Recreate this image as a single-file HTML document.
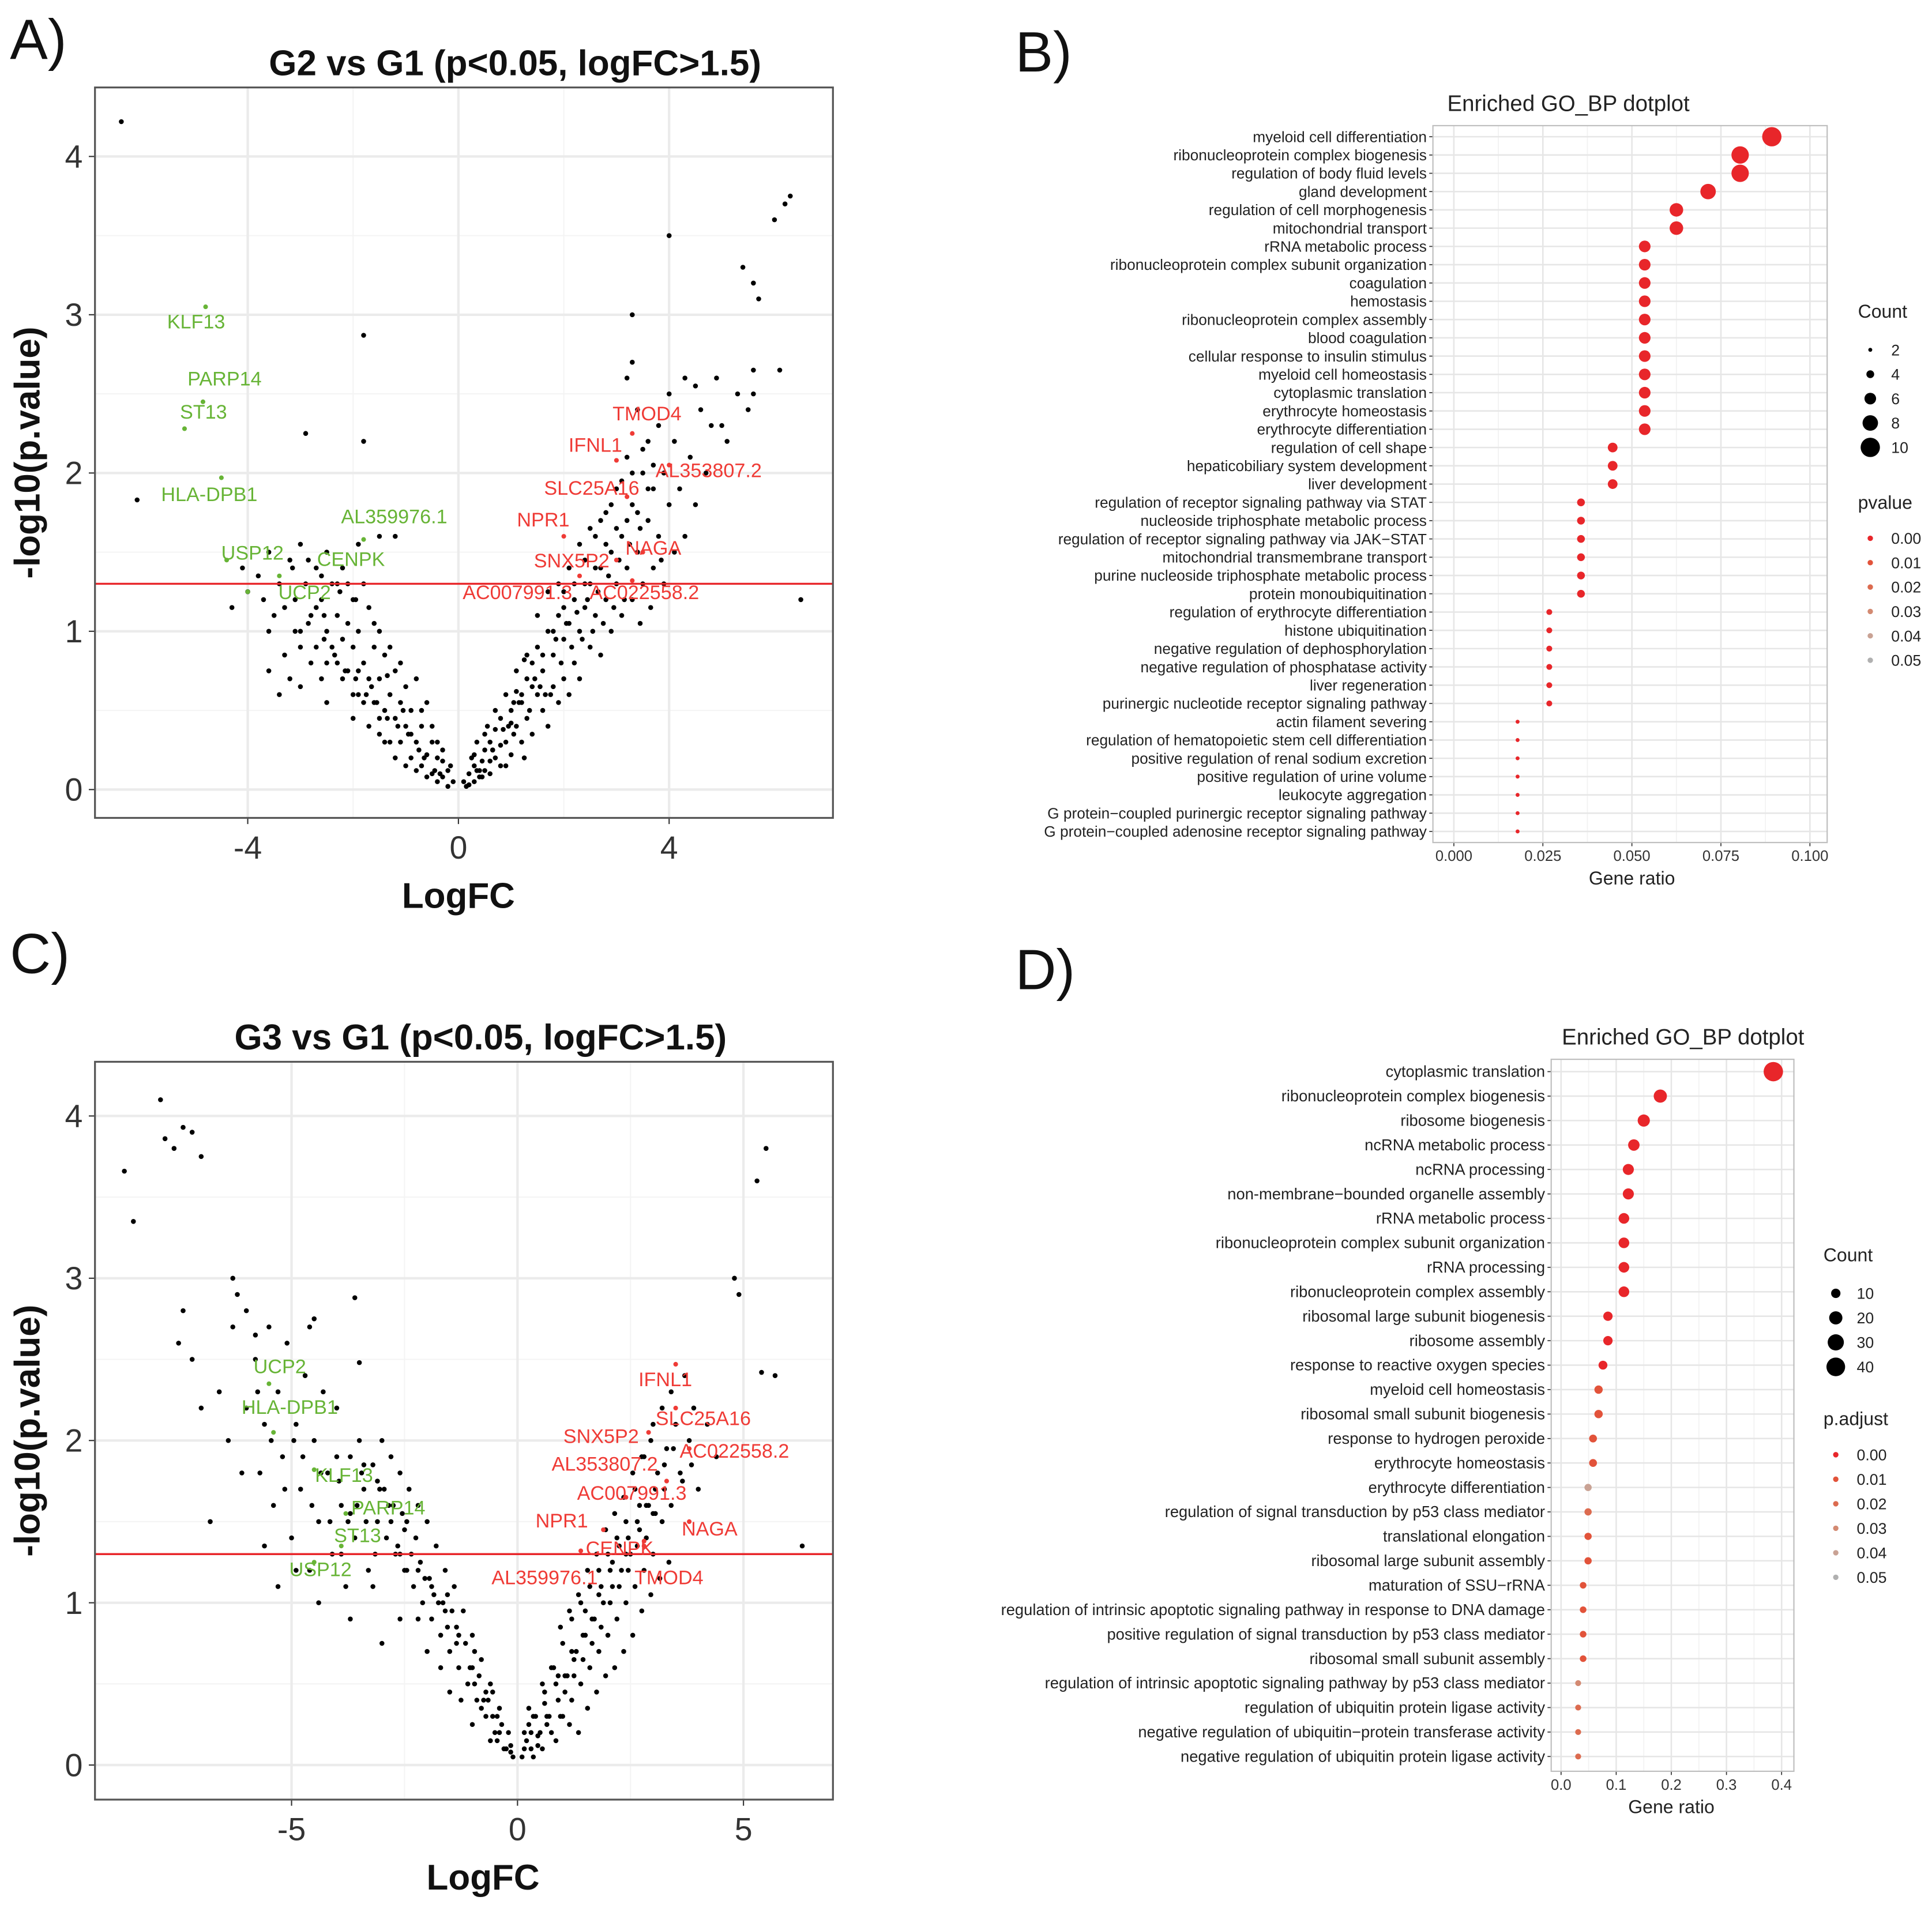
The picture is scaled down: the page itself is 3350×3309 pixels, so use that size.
<!DOCTYPE html>
<html><head><meta charset="utf-8">
<style>
html,body{margin:0;padding:0;background:#fff;}
svg{display:block;font-family:"Liberation Sans",Arial,sans-serif;}
</style></head>
<body>
<svg id="root" width="3350" height="3309" viewBox="0 0 1568 1549" xmlns="http://www.w3.org/2000/svg">
<rect width="1568" height="1549" fill="#fff"/>
<text x="8" y="48" font-size="46" fill="#111">A)</text>
<text x="824" y="58" font-size="46" fill="#111">B)</text>
<text x="8" y="790" font-size="46" fill="#111">C)</text>
<text x="824" y="803" font-size="46" fill="#111">D)</text>
</svg>
<script>
// ---------- Volcano A data ----------
const volcA_x = [0.1,0.2,0.3,0.4,0.5,0.5,0.6,0.7,0.7,0.8,0.8,0.9,1.0,1.0,1.1,1.1,1.2,1.2,1.3,1.3,1.4,1.4,1.5,1.5,1.6,1.6,1.7,1.7,1.8,1.8,1.9,1.9,2.0,2.0,2.0,2.1,2.1,2.2,2.2,2.3,2.3,2.4,2.4,2.5,2.5,2.6,2.6,2.7,2.7,2.8,2.8,2.9,2.9,3.0,3.0,3.1,3.1,3.2,3.2,3.3,3.3,3.4,3.4,3.5,3.5,3.6,3.6,3.7,3.7,3.8,3.8,3.9,3.9,4.0,4.0,4.1,4.1,4.2,4.3,4.3,4.4,4.5,4.6,4.7,4.9,5.0,5.1,5.3,5.6,5.6,6.1,6.5,6.2,6.0,6.3,5.4,5.6,5.7,3.3,4.0,3.3,3.2,4.5,5.5,4.8,0.3,0.15,0.25,0.45,0.6,0.35,0.55,0.9,1.05,1.25,
-0.1,-0.2,-0.3,-0.4,-0.5,-0.5,-0.6,-0.7,-0.7,-0.8,-0.9,-0.9,-1.0,-1.0,-1.1,-1.1,-1.2,-1.2,-1.3,-1.3,-1.4,-1.4,-1.5,-1.5,-1.6,-1.6,-1.7,-1.7,-1.8,-1.8,-1.9,-1.9,-2.0,-2.0,-2.1,-2.1,-2.2,-2.2,-2.3,-2.3,-2.4,-2.5,-2.5,-2.6,-2.7,-2.7,-2.8,-2.9,-3.0,-3.0,-3.1,-3.2,-3.3,-3.4,-3.5,-3.6,-3.7,-3.8,-4.0,-4.1,-4.3,-3.2,-3.4,-2.6,-2.0,-1.5,-6.4,-6.1,-1.8,-1.8,-2.9,-1.5,-1.2,-0.8,-0.6,-0.3,-0.15,-0.4,-1.9,-2.5,-3.0,-3.6,
0.35,0.65,0.95,1.15,1.35,1.55,1.75,1.95,2.15,2.35,2.55,2.75,2.95,3.15,3.45,3.65,3.85,-0.35,-0.65,-0.95,-1.15,-1.35,-1.55,-1.75,-1.95,-2.15,-2.35,-2.55,-2.85,-3.1,
0.2,0.3,0.4,0.5,0.6,0.7,0.8,0.9,1.0,1.1,1.2,1.3,1.4,1.5,1.6,1.7,1.8,1.9,2.0,2.1,2.2,2.3,2.4,2.5,2.6,2.7,2.8,2.9,3.0,3.1,3.2,3.3,3.4,3.5,3.6,3.7,0.45,0.65,0.85,1.05,1.25,1.45,1.65,1.85,2.05,2.25,2.45,2.65,2.85,3.05,3.25,3.45,
-0.2,-0.3,-0.4,-0.5,-0.6,-0.7,-0.8,-0.9,-1.0,-1.1,-1.2,-1.3,-1.4,-1.5,-1.6,-1.7,-1.8,-1.9,-2.0,-2.1,-2.2,-2.3,-2.4,-2.5,-2.6,-2.7,-2.8,-3.0,-3.3,-3.6,-0.45,-0.75,-1.05,-1.35,-1.65,-1.95,-2.25,-2.55,-2.85,-3.15];
const volcA_y = [0.05,0.1,0.15,0.08,0.25,0.12,0.3,0.2,0.38,0.15,0.45,0.3,0.5,0.22,0.4,0.62,0.3,0.55,0.7,0.45,0.35,0.8,0.6,0.9,0.5,0.75,1.0,0.4,0.65,0.85,1.1,0.55,0.7,0.95,1.25,0.6,1.05,0.8,1.3,1.0,0.7,1.15,1.45,0.9,1.3,1.1,1.6,0.85,1.4,1.2,1.75,1.0,1.5,1.3,1.9,1.1,1.6,1.4,2.1,1.2,1.8,1.5,2.4,1.3,2.0,1.7,2.2,1.4,1.9,2.3,1.6,2.0,1.3,1.8,2.5,1.5,2.2,1.9,2.6,1.6,2.1,1.8,2.4,2.0,2.6,2.3,2.2,2.5,2.65,2.5,2.65,1.2,3.7,3.6,3.75,3.3,3.2,3.1,3.0,3.5,2.7,2.6,2.55,2.4,2.3,0.05,0.02,0.2,0.18,0.1,0.3,0.4,0.15,0.35,0.2,
0.05,0.12,0.08,0.2,0.1,0.3,0.22,0.4,0.15,0.3,0.5,0.2,0.4,0.65,0.3,0.55,0.75,0.45,0.6,0.3,0.85,0.5,0.7,1.0,0.55,0.9,1.15,0.7,0.8,1.3,1.0,0.6,0.9,1.2,0.75,1.05,1.4,0.95,1.1,0.8,1.3,1.0,1.5,1.2,0.9,1.4,1.1,1.3,1.0,1.55,1.2,1.45,0.85,1.3,1.1,1.5,1.2,1.35,1.25,1.4,1.15,0.7,0.6,0.7,0.45,0.35,4.22,1.83,2.87,2.2,2.25,1.6,1.6,0.7,0.55,0.25,0.15,0.05,1.55,0.55,0.65,0.75,
0.12,0.25,0.4,0.55,0.5,0.65,0.6,0.8,0.9,0.95,1.0,1.05,1.15,1.2,1.05,1.15,1.45,0.1,0.2,0.35,0.4,0.45,0.55,0.6,0.7,0.75,0.85,0.95,1.05,1.0,
0.03,0.22,0.12,0.35,0.18,0.5,0.28,0.6,0.42,0.75,0.6,0.85,0.65,1.1,0.85,1.25,1.0,1.3,1.15,1.4,1.2,1.55,1.3,1.65,1.4,1.7,1.55,1.8,1.65,1.95,1.7,2.0,1.75,2.15,1.9,2.05,0.08,0.25,0.38,0.55,0.82,0.7,0.6,0.95,1.05,1.12,1.2,1.25,1.35,1.45,1.55,1.65,
0.02,0.18,0.3,0.4,0.08,0.5,0.12,0.35,0.15,0.8,0.2,0.9,0.3,0.45,1.05,0.4,0.55,0.75,0.6,1.3,0.7,1.3,0.9,0.8,1.35,1.15,0.8,0.9,1.15,1.0,0.12,0.25,0.5,0.72,0.65,1.2,1.25,1.1,1.45,1.4];
const volcA_greenGenes = ["KLF13","PARP14","ST13","HLA-DPB1","AL359976.1","USP12","CENPK","UCP2"];
const volcA_greenX = [-4.8,-4.85,-5.2,-4.5,-1.8,-4.4,-3.4,-4.0];
const volcA_greenY = [3.05,2.45,2.28,1.97,1.58,1.45,1.35,1.25];
const volcA_greenLX = [-4.98,-4.44,-4.84,-4.73,-1.22,-3.91,-2.04,-2.92];
const volcA_greenLY = [2.96,2.60,2.39,1.87,1.73,1.50,1.46,1.25];
const volcA_redGenes = ["TMOD4","IFNL1","AL353807.2","SLC25A16","NPR1","NAGA","SNX5P2","AC007991.3","AC022558.2"];
const volcA_redX = [3.3,3.0,4.0,3.2,2.0,3.5,3.0,2.3,3.3];
const volcA_redY = [2.25,2.08,2.05,1.85,1.6,1.5,1.45,1.35,1.32];
const volcA_redLX = [3.58,2.60,4.75,2.53,1.61,3.70,2.15,1.12,3.53];
const volcA_redLY = [2.38,2.18,2.02,1.91,1.71,1.53,1.45,1.25,1.25];
const volcA_xticks = [-4,0,4];
const volcA_yticks = [0,1,2,3,4];

// ---------- Volcano C data ----------
const volcC_x = [0.1,0.2,0.3,0.4,0.5,0.6,0.7,0.8,0.9,1.0,1.0,1.1,1.2,1.2,1.3,1.4,1.4,1.5,1.6,1.6,1.7,1.8,1.8,1.9,2.0,2.0,2.1,2.2,2.2,2.3,2.4,2.4,2.5,2.6,2.6,2.7,2.8,2.8,2.9,3.0,3.0,3.1,3.2,3.2,3.3,3.4,3.4,3.5,3.6,3.7,3.8,3.9,4.0,4.2,4.4,4.8,4.9,5.3,5.5,5.4,5.7,6.3,0.25,0.55,0.75,0.35,0.15,0.85,1.15,1.35,1.55,1.75,1.95,2.15,2.35,2.55,2.75,2.95,3.15,3.35,
-0.1,-0.2,-0.3,-0.4,-0.5,-0.6,-0.7,-0.8,-0.9,-1.0,-1.1,-1.2,-1.3,-1.4,-1.5,-1.6,-1.7,-1.8,-1.9,-2.0,-2.1,-2.2,-2.3,-2.4,-2.5,-2.6,-2.7,-2.8,-2.9,-3.0,-3.1,-3.2,-3.3,-3.4,-3.5,-3.6,-3.7,-3.8,-3.9,-4.0,-4.1,-4.2,-4.3,-4.4,-4.5,-4.6,-4.7,-4.8,-4.9,-5.0,-5.1,-5.2,-5.3,-5.4,-5.5,-5.6,-5.7,-5.8,-6.0,-6.2,-6.3,-6.4,-6.6,-6.8,-7.0,-7.2,-7.4,-7.5,-7.2,-7.4,-7.6,-7.8,-7.0,-7.9,-8.7,-8.5,-4.5,-4.6,-3.6,-3.5,-6.3,-6.0,-5.8,-3.9,-3.2,-2.6,-2.0,-1.5,-1.0,-0.6,-4.4,-3.7,-3.0,-4.9,-5.3,-5.6,-6.1,-0.35,-0.8,-1.25,-1.7,-2.2,-2.6,
-0.15,-0.45,-0.55,-0.75,-0.95,-1.05,-1.35,-1.55,-1.65,-1.85,-2.05,-2.35,-2.45,-2.75,-3.05,0.45,0.65,0.95,1.05,1.25,1.45,1.65,1.85,2.05,2.25,2.45,2.65,2.85,3.05,3.25,
0.15,0.25,0.35,0.45,0.55,0.65,0.75,0.85,0.95,1.05,1.15,1.25,1.35,1.45,1.55,1.65,1.75,1.85,1.95,2.05,2.15,2.25,2.35,2.45,2.55,2.65,2.75,2.85,2.95,3.05,3.25,3.45,3.65,3.85,0.3,0.6,0.9,1.2,1.5,1.8,2.1,2.4,2.7,3.0,
-0.15,-0.25,-0.45,-0.55,-0.65,-0.85,-0.95,-1.15,-1.35,-1.45,-1.55,-1.75,-1.95,-2.15,-2.25,-2.45,-2.55,-2.65,-2.85,-2.95,-3.15,-3.35,-3.45,-3.55,-3.75,-3.95,-4.15,-4.35,-4.55,-4.75,-4.95,-5.15,-5.45,-5.75,-0.4,-0.7,-1.0,-1.3,-1.6,-1.9,-2.2,-2.5,-2.8,-3.1,-3.4,-3.7,-4.0];
const volcC_y = [0.05,0.15,0.1,0.3,0.2,0.45,0.3,0.6,0.4,0.75,0.3,0.55,0.9,0.4,0.7,1.0,0.5,0.8,1.1,0.6,0.9,1.2,0.7,1.0,1.3,0.8,1.1,1.4,0.9,1.2,1.5,1.0,1.3,1.7,1.1,1.45,1.9,1.2,1.6,2.1,1.3,1.8,2.2,1.5,1.95,2.3,1.6,2.1,1.8,2.4,2.0,2.2,1.7,2.1,1.9,3.0,2.9,3.6,3.8,2.42,2.4,1.35,0.35,0.1,0.2,0.05,0.2,0.15,0.25,0.2,0.35,0.45,0.55,0.6,0.7,0.8,0.95,1.05,1.15,1.25,
0.05,0.2,0.1,0.35,0.2,0.5,0.3,0.65,0.4,0.8,0.5,0.95,0.6,1.1,0.7,1.2,0.8,1.35,0.9,1.5,1.0,1.6,1.1,1.7,1.2,1.8,1.3,1.9,1.4,2.0,1.5,1.85,1.2,1.7,2.0,1.4,1.9,1.1,1.6,2.2,1.3,1.8,2.3,1.5,2.0,1.2,2.4,1.7,2.1,1.4,2.6,1.9,2.3,1.6,2.7,2.1,1.8,2.5,2.2,2.9,2.7,2.0,2.3,1.5,2.2,2.5,2.8,2.6,3.9,3.93,3.8,3.86,3.75,4.1,3.66,3.35,2.75,2.7,2.88,2.48,3.0,2.8,2.65,1.3,1.1,0.9,0.7,0.45,0.25,0.15,1.0,0.9,0.75,1.2,1.1,1.35,1.8,0.25,0.35,0.4,0.6,0.9,1.3,
0.08,0.15,0.3,0.4,0.5,0.6,0.75,0.85,1.0,1.05,1.15,1.3,1.5,1.6,1.7,0.12,0.25,0.3,0.45,0.55,0.65,0.75,0.85,1.0,1.1,1.2,1.35,1.4,1.55,1.7,
0.1,0.25,0.3,0.18,0.5,0.3,0.6,0.5,0.85,0.55,0.95,0.65,1.05,0.8,1.2,0.9,1.3,1.1,1.45,1.2,1.55,1.35,1.65,1.4,1.8,1.5,1.9,1.6,2.0,1.7,1.85,1.95,1.75,1.85,0.2,0.38,0.55,0.7,0.95,1.05,1.25,1.3,1.6,1.55,
0.12,0.1,0.3,0.45,0.4,0.55,0.7,0.75,0.85,0.95,1.05,1.0,1.15,1.25,1.4,1.2,1.55,1.35,1.6,1.7,1.3,1.5,1.8,1.6,1.5,1.75,1.5,1.8,1.6,1.9,2.0,1.7,2.0,2.3,0.2,0.45,0.6,0.8,0.95,1.1,1.2,1.45,1.5,1.75,1.85,1.55,1.9];
const volcC_greenGenes = ["UCP2","HLA-DPB1","KLF13","PARP14","ST13","USP12"];
const volcC_greenX = [-5.5,-5.4,-4.5,-3.8,-3.9,-4.5];
const volcC_greenY = [2.35,2.05,1.82,1.55,1.35,1.25];
const volcC_greenLX = [-5.26,-5.04,-3.84,-2.86,-3.54,-4.36];
const volcC_greenLY = [2.46,2.21,1.79,1.59,1.42,1.21];
const volcC_redGenes = ["IFNL1","SLC25A16","SNX5P2","AC022558.2","AL353807.2","AC007991.3","NAGA","NPR1","CENPK","AL359976.1","TMOD4"];
const volcC_redX = [3.5,3.5,2.9,3.8,3.3,2.4,3.8,1.9,2.8,1.4,2.8];
const volcC_redY = [2.47,2.2,2.05,1.95,1.75,1.65,1.5,1.45,1.35,1.32,1.38];
const volcC_redLX = [3.27,4.11,1.85,4.80,1.93,2.53,4.25,0.98,2.26,0.60,3.35];
const volcC_redLY = [2.38,2.14,2.03,1.94,1.86,1.68,1.46,1.51,1.34,1.16,1.16];
const volcC_xticks = [-5,0,5];
const volcC_yticks = [0,1,2,3,4];

// ---------- Dotplot B data ----------
const dotB_terms = ["myeloid cell differentiation","ribonucleoprotein complex biogenesis","regulation of body fluid levels","gland development","regulation of cell morphogenesis","mitochondrial transport","rRNA metabolic process","ribonucleoprotein complex subunit organization","coagulation","hemostasis","ribonucleoprotein complex assembly","blood coagulation","cellular response to insulin stimulus","myeloid cell homeostasis","cytoplasmic translation","erythrocyte homeostasis","erythrocyte differentiation","regulation of cell shape","hepaticobiliary system development","liver development","regulation of receptor signaling pathway via STAT","nucleoside triphosphate metabolic process","regulation of receptor signaling pathway via JAK−STAT","mitochondrial transmembrane transport","purine nucleoside triphosphate metabolic process","protein monoubiquitination","regulation of erythrocyte differentiation","histone ubiquitination","negative regulation of dephosphorylation","negative regulation of phosphatase activity","liver regeneration","purinergic nucleotide receptor signaling pathway","actin filament severing","regulation of hematopoietic stem cell differentiation","positive regulation of renal sodium excretion","positive regulation of urine volume","leukocyte aggregation","G protein−coupled purinergic receptor signaling pathway","G protein−coupled adenosine receptor signaling pathway"];
const dotB_ratio = [0.0893,0.0804,0.0804,0.0714,0.0625,0.0625,0.0536,0.0536,0.0536,0.0536,0.0536,0.0536,0.0536,0.0536,0.0536,0.0536,0.0536,0.0446,0.0446,0.0446,0.0357,0.0357,0.0357,0.0357,0.0357,0.0357,0.0268,0.0268,0.0268,0.0268,0.0268,0.0268,0.0179,0.0179,0.0179,0.0179,0.0179,0.0179,0.0179];
const dotB_count = [10,9,9,8,7,7,6,6,6,6,6,6,6,6,6,6,6,5,5,5,4,4,4,4,4,4,3,3,3,3,3,3,2,2,2,2,2,2,2];
const dotB_p = [0,0,0,0,0,0,0,0,0,0,0,0,0,0,0,0,0,0,0,0,0,0,0,0,0,0,0.002,0.002,0.002,0.002,0.002,0.002,0.004,0.004,0.004,0.004,0.004,0.004,0.004];
const dotB_xticks = [0,0.025,0.05,0.075,0.1];
const dotB_xtickLabels = ["0.000","0.025","0.050","0.075","0.100"];
const dotB_legCounts = [2,4,6,8,10];
const dotB_legP = [0,0.01,0.02,0.03,0.04,0.05];

// ---------- Dotplot D data ----------
const dotD_terms = ["cytoplasmic translation","ribonucleoprotein complex biogenesis","ribosome biogenesis","ncRNA metabolic process","ncRNA processing","non-membrane−bounded organelle assembly","rRNA metabolic process","ribonucleoprotein complex subunit organization","rRNA processing","ribonucleoprotein complex assembly","ribosomal large subunit biogenesis","ribosome assembly","response to reactive oxygen species","myeloid cell homeostasis","ribosomal small subunit biogenesis","response to hydrogen peroxide","erythrocyte homeostasis","erythrocyte differentiation","regulation of signal transduction by p53 class mediator","translational elongation","ribosomal large subunit assembly","maturation of SSU−rRNA","regulation of intrinsic apoptotic signaling pathway in response to DNA damage","positive regulation of signal transduction by p53 class mediator","ribosomal small subunit assembly","regulation of intrinsic apoptotic signaling pathway by p53 class mediator","regulation of ubiquitin protein ligase activity","negative regulation of ubiquitin−protein transferase activity","negative regulation of ubiquitin protein ligase activity"];
const dotD_ratio = [0.385,0.18,0.15,0.132,0.122,0.122,0.114,0.114,0.114,0.114,0.085,0.085,0.076,0.068,0.068,0.058,0.058,0.049,0.049,0.049,0.049,0.040,0.040,0.040,0.040,0.031,0.031,0.031,0.031];
const dotD_count = [43,20,17,15,14,14,13,13,13,13,10,10,9,8,8,7,7,6,6,6,6,5,5,5,5,4,4,4,4];
const dotD_p = [0,0,0,0,0,0,0,0,0,0,0.002,0.002,0.005,0.006,0.006,0.012,0.012,0.035,0.02,0.012,0.012,0.008,0.008,0.008,0.008,0.03,0.02,0.02,0.015];
const dotD_xticks = [0,0.1,0.2,0.3,0.4];
const dotD_xtickLabels = ["0.0","0.1","0.2","0.3","0.4"];
const dotD_legCounts = [10,20,30,40];
const dotD_legP = [0,0.01,0.02,0.03,0.04,0.05];

const NS = "http://www.w3.org/2000/svg";
const root = document.getElementById('root');
function el(tag, attrs, parent){ const e=document.createElementNS(NS,tag); for(const k in attrs) e.setAttribute(k,attrs[k]); (parent||root).appendChild(e); return e; }
function txt(s, attrs, parent){ const e=el('text',attrs,parent); e.textContent=s; return e; }
const pColStops = ["#e8262a","#e2533a","#dc6b4f","#d38a72","#c9a294","#b0b0b0"];
function pcol(p){ const t=Math.max(0,Math.min(1,p/0.05))*5; const i=Math.round(t); return pColStops[i]; }

function volcano(cfg){
  const g = el('g',{});
  
  
  const X=v=>cfg.X0+(v-cfg.xmin)/(cfg.xmax-cfg.xmin)*cfg.W;
  const Y=v=>cfg.Y0+cfg.H-(v-cfg.ymin)/(cfg.ymax-cfg.ymin)*cfg.H;
  el('rect',{x:cfg.X0,y:cfg.Y0,width:cfg.W,height:cfg.H,fill:'#fff'},g);
  for(let i=0;i<cfg.xticks.length-1;i++){ const m=(cfg.xticks[i]+cfg.xticks[i+1])/2; el('line',{x1:X(m),x2:X(m),y1:cfg.Y0,y2:cfg.Y0+cfg.H,stroke:'#f4f4f4','stroke-width':1},g);}
  for(let i=0;i<cfg.yticks.length-1;i++){ const m=(cfg.yticks[i]+cfg.yticks[i+1])/2; el('line',{y1:Y(m),y2:Y(m),x1:cfg.X0,x2:cfg.X0+cfg.W,stroke:'#f4f4f4','stroke-width':1},g);}
  cfg.xticks.forEach(t=>{ const l=el('line',{x1:X(t),x2:X(t),y1:cfg.Y0,y2:cfg.Y0+cfg.H,stroke:'#ebebeb','stroke-width':2},g);
     
    el('line',{x1:X(t),x2:X(t),y1:cfg.Y0+cfg.H,y2:cfg.Y0+cfg.H+5,stroke:'#333','stroke-width':1},g);
    const tl=txt(String(t),{x:X(t),y:cfg.Y0+cfg.H+33,'font-size':26,'text-anchor':'middle',fill:'#333'},g);
      });
  cfg.yticks.forEach(t=>{ const l=el('line',{y1:Y(t),y2:Y(t),x1:cfg.X0,x2:cfg.X0+cfg.W,stroke:'#ebebeb','stroke-width':2},g);
     
    el('line',{y1:Y(t),y2:Y(t),x1:cfg.X0-5,x2:cfg.X0,stroke:'#333','stroke-width':1},g);
    const tl=txt(String(t),{x:cfg.X0-10,y:Y(t)+9,'font-size':26,'text-anchor':'end',fill:'#333'},g);
      });
  for(let i=0;i<cfg.px.length;i++){ const c=el('circle',{cx:X(cfg.px[i]),cy:Y(cfg.py[i]),r:2.0,fill:'#000'},g);
      }
  const th=el('line',{x1:cfg.X0,x2:cfg.X0+cfg.W,y1:Y(1.3),y2:Y(1.3),stroke:'#e8262a','stroke-width':1.6},g);
   
  const lab=(genes,xs,ys,lx,ly,col)=>{ for(let i=0;i<genes.length;i++){
    const c=el('circle',{cx:X(xs[i]),cy:Y(ys[i]),r:1.9,fill:col},g);
     
    const t=txt(genes[i],{x:X(lx[i]),y:Y(ly[i])+6,'font-size':16,'text-anchor':'middle',fill:col},g);
      } };
  lab(cfg.gG,cfg.gX,cfg.gY,cfg.gLX,cfg.gLY,'#67b436');
  lab(cfg.rG,cfg.rX,cfg.rY,cfg.rLX,cfg.rLY,'#ef3b36');
  const fr=el('rect',{x:cfg.X0,y:cfg.Y0,width:cfg.W,height:cfg.H,fill:'none',stroke:'#555','stroke-width':1.5},g);
   
  const tt=txt(cfg.title,{x:cfg.titleX,y:cfg.Y0-10,'font-size':29,'font-weight':'bold','text-anchor':'middle',fill:'#111'},g);
   
  const xt=txt('LogFC',{x:cfg.xTitleX,y:cfg.Y0+cfg.H+73,'font-size':29,'font-weight':'bold','text-anchor':'middle',fill:'#111'},g);
   
  const yt=txt('-log10(p.value)',{x:0,y:0,'font-size':29,'font-weight':'bold','text-anchor':'middle',fill:'#111',transform:`translate(32,${cfg.Y0+cfg.H/2}) rotate(-90)`},g);
   
}

volcano({name:'volcano-plot-g2-vs-g1',X0:77,Y0:71,W:599,H:593,xmin:-6.9,xmax:7.11,ymin:-0.179,ymax:4.436,
  xticks:volcA_xticks,yticks:volcA_yticks,px:volcA_x,py:volcA_y,
  gG:volcA_greenGenes,gX:volcA_greenX,gY:volcA_greenY,gLX:volcA_greenLX,gLY:volcA_greenLY,
  rG:volcA_redGenes,rX:volcA_redX,rY:volcA_redY,rLX:volcA_redLX,rLY:volcA_redLY,
  title:'G2 vs G1 (p<0.05, logFC>1.5)',titleX:418,xTitleX:372});
volcano({name:'volcano-plot-g3-vs-g1',X0:77,Y0:862,W:599,H:599,xmin:-9.35,xmax:6.98,ymin:-0.213,ymax:4.334,
  xticks:volcC_xticks,yticks:volcC_yticks,px:volcC_x,py:volcC_y,
  gG:volcC_greenGenes,gX:volcC_greenX,gY:volcC_greenY,gLX:volcC_greenLX,gLY:volcC_greenLY,
  rG:volcC_redGenes,rX:volcC_redX,rY:volcC_redY,rLX:volcC_redLX,rLY:volcC_redLY,
  title:'G3 vs G1 (p<0.05, logFC>1.5)',titleX:390,xTitleX:392});

function dotplot(cfg){
  const g = el('g',{});
  
  
  const X=v=>cfg.X0+(v-cfg.xmin)/(cfg.xmax-cfg.xmin)*cfg.W;
  const n=cfg.terms.length;
  const Yi=i=>cfg.rowTop+i*(cfg.rowBot-cfg.rowTop)/(n-1);
  for(let i=0;i<cfg.xticks.length-1;i++){ const m=(cfg.xticks[i]+cfg.xticks[i+1])/2; el('line',{x1:X(m),x2:X(m),y1:cfg.Y0,y2:cfg.Y0+cfg.H,stroke:'#f2f2f2','stroke-width':0.8},g);}
  cfg.xticks.forEach((t,k)=>{ el('line',{x1:X(t),x2:X(t),y1:cfg.Y0,y2:cfg.Y0+cfg.H,stroke:'#e6e6e6','stroke-width':1.2},g);
    el('line',{x1:X(t),x2:X(t),y1:cfg.Y0+cfg.H,y2:cfg.Y0+cfg.H+3,stroke:'#333','stroke-width':0.8},g);
    const tl=txt(cfg.xtl[k],{x:X(t),y:cfg.Y0+cfg.H+15,'font-size':cfg.tickFs,'text-anchor':'middle',fill:'#333'},g);
      });
  for(let i=0;i<n;i++){ const y=Yi(i);
    el('line',{x1:cfg.X0,x2:cfg.X0+cfg.W,y1:y,y2:y,stroke:'#e6e6e6','stroke-width':1.2},g);
    el('line',{x1:cfg.X0-3,x2:cfg.X0,y1:y,y2:y,stroke:'#333','stroke-width':0.8},g);
    const tl=txt(cfg.terms[i],{x:cfg.X0-5,y:y+4.3,'font-size':cfg.fs,'text-anchor':'end',fill:'#222'},g);
      }
  for(let i=0;i<n;i++){ const c=el('circle',{cx:X(cfg.ratio[i]),cy:Yi(i),r:cfg.rf(cfg.count[i]),fill:pcol(cfg.p[i])},g);
      }
  const fr=el('rect',{x:cfg.X0,y:cfg.Y0,width:cfg.W,height:cfg.H,fill:'none',stroke:'#bdbdbd','stroke-width':1},g);
   
  const tt=txt('Enriched GO_BP dotplot',{x:cfg.titleX,y:cfg.Y0-12,'font-size':18,'text-anchor':'middle',fill:'#222'},g);
   
  const xt=txt('Gene ratio',{x:X(cfg.xTitleAt),y:cfg.Y0+cfg.H+34,'font-size':15,'text-anchor':'middle',fill:'#222'},g);
   
  const lg=el('g',{},g);
   
  txt('Count',{x:cfg.legX,y:cfg.countY,'font-size':15,fill:'#222'},lg);
  cfg.legCounts.forEach((c,k)=>{ const y=cfg.countY+26+k*cfg.legStep;
    const d=el('circle',{cx:cfg.legX+10,cy:y,r:cfg.rf(c),fill:'#000'},lg);
     
    txt(String(c),{x:cfg.legX+27,y:y+4.5,'font-size':12.5,fill:'#222'},lg); });
  txt(cfg.pTitle,{x:cfg.legX,y:cfg.pY,'font-size':15,fill:'#222'},lg);
  cfg.legP.forEach((p,k)=>{ const y=cfg.pY+24+k*cfg.legStep;
    const d=el('circle',{cx:cfg.legX+10,cy:y,r:2.2,fill:pcol(p)},lg);
     
    txt(p.toFixed(2),{x:cfg.legX+27,y:y+4.5,'font-size':12.5,fill:'#222'},lg); });
}

dotplot({name:'dotplot-go-bp-g2',X0:1163,Y0:102,W:320,H:582,xmin:-0.00588,xmax:0.10484,rowTop:111,rowBot:675,
  terms:dotB_terms,ratio:dotB_ratio,count:dotB_count,p:dotB_p,xticks:dotB_xticks,xtl:dotB_xtickLabels,
  fs:12.3,tickFs:12,titleX:1273,xTitleAt:0.05,rf:c=>1.6+(c-2)*0.78,
  legX:1508,countY:258,legStep:19.8,legCounts:dotB_legCounts,pTitle:'pvalue',pY:413,legP:dotB_legP});
dotplot({name:'dotplot-go-bp-g3',X0:1259,Y0:860,W:197,H:578,xmin:-0.0179,xmax:0.4223,rowTop:870,rowBot:1426,
  terms:dotD_terms,ratio:dotD_ratio,count:dotD_count,p:dotD_p,xticks:dotD_xticks,xtl:dotD_xtickLabels,
  fs:12.8,tickFs:12,titleX:1366,xTitleAt:0.2,rf:c=>1.2*Math.sqrt(c),
  legX:1480,countY:1024,legStep:19.9,legCounts:dotD_legCounts,pTitle:'p.adjust',pY:1157,legP:dotD_legP});
</script>
</body></html>
